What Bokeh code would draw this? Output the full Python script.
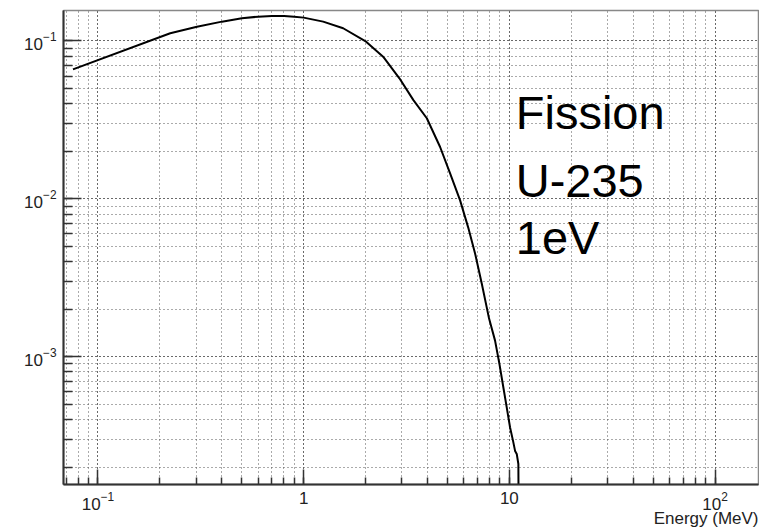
from bokeh.plotting import figure
from bokeh.models import Label, LogTicker, Title
from bokeh.embed import file_html
from bokeh.resources import INLINE

# Fission neutron spectrum, U-235, 1 eV incident
energy_mev = [0.0756, 0.2246, 0.3029, 0.4005, 0.5008, 0.601, 0.7006, 0.8038, 0.899, 1.0,
              1.244, 1.556, 2.012, 2.434, 2.921, 3.416, 3.969, 4.606, 5.151, 5.761,
              6.3, 6.813, 7.341, 7.968, 8.52, 8.942, 9.351, 9.713, 10.08, 10.42,
              10.66, 10.86, 11.06, 11.2]
spectrum = [0.0661, 0.1119, 0.1232, 0.1326, 0.1393, 0.1426, 0.1441, 0.1441, 0.1426, 0.1406,
            0.1326, 0.1204, 0.0990, 0.0795, 0.0580, 0.0422, 0.0324, 0.0213, 0.01452, 0.00978,
            0.00662, 0.00451, 0.00291, 0.001743, 0.001264, 0.000903, 0.000638, 0.000476, 0.000356, 0.000293,
            0.000253, 0.000242, 0.000209, 0.00001]

x_range = (0.068, 162.6)
y_range = (1.55e-4, 0.156)
x_label_overrides = {1: "1", 10: "10"}
annotation_lines = ["Fission", "U-235", "1eV"]
x_title = "Energy (MeV)"

FONT = "Liberation Sans"

p = figure(width=759, height=527, x_axis_type="log", y_axis_type="log",
           x_range=x_range, y_range=y_range, title=None,
           output_backend="svg", toolbar_location=None,
           min_border_left=63, min_border_right=1, min_border_top=10, min_border_bottom=43,
           background_fill_color="white", border_fill_color="white")

p.outline_line_color = "#888888"
p.outline_line_width = 1.5

for ax in (p.xaxis[0], p.yaxis[0]):
    ax.ticker = LogTicker(num_minor_ticks=10)
    ax.axis_line_color = "#333333"
    ax.axis_line_width = 2
    ax.major_tick_line_color = "#333333"
    ax.minor_tick_line_color = "#333333"
    ax.major_tick_line_width = 1.5
    ax.minor_tick_line_width = 1.5
    ax.major_tick_out = 0
    ax.minor_tick_out = 0
    ax.major_label_text_font = FONT
    ax.major_label_text_font_size = "17px"
    ax.major_label_text_color = "#222222"

p.xaxis.major_tick_in = 15
p.xaxis.minor_tick_in = 7
p.yaxis.major_tick_in = 18
p.yaxis.minor_tick_in = 9
p.xaxis.major_label_standoff = 7
p.yaxis.major_label_standoff = 7
p.xaxis.major_label_overrides = x_label_overrides

# axis title at the right end of the x axis
p.add_layout(Title(text=x_title, align="right", text_font=FONT, text_font_size="17px",
                   text_font_style="normal", text_color="#222222", standoff=-12,
                   offset=0), "below")

for g in (p.xgrid[0], p.ygrid[0]):
    g.grid_line_color = "#555555"
    g.grid_line_dash = "1 3"
    g.grid_line_width = 1
    g.minor_grid_line_color = "#555555"
    g.minor_grid_line_dash = "1 3"
    g.minor_grid_line_width = 1

p.line(energy_mev, spectrum, line_color="black", line_width=2, line_join="round")

# text block
text_pos = [(10.74, 0.0354), (10.74, 0.01305), (10.74, 0.0057)]
for (tx, ty), t in zip(text_pos, annotation_lines):
    p.add_layout(Label(x=tx, y=ty, text=t, text_font=FONT, text_font_size="47px",
                       text_color="black", text_align="left", text_baseline="alphabetic"))

open("out.html", "w").write(file_html(p, INLINE))
